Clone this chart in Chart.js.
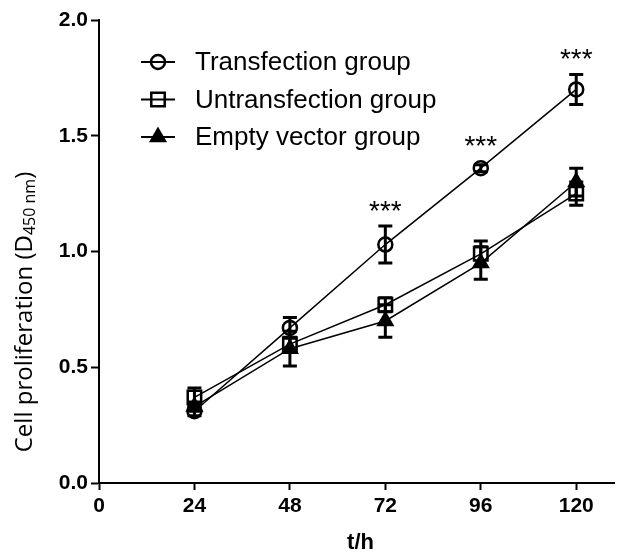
<!DOCTYPE html>
<html>
<head>
<meta charset="utf-8">
<script src="https://cdn.jsdelivr.net/npm/chart.js@4.4.1/dist/chart.umd.min.js"></script>
<style>
  html, body { margin: 0; padding: 0; background: #fff; }
  #wrap { width: 626px; height: 558px; position: relative; }
</style>
</head>
<body>
<div id="wrap"><canvas id="prolifChart"></canvas></div>
<script>
// time points (h) and tick labels
const hours = [24, 48, 72, 96, 120];
const xTicks = [0, 24, 48, 72, 96, 120];
const yTicks = [0, 0.5, 1.0, 1.5, 2.0];

const seriesLabels = ['Transfection group', 'Untransfection group', 'Empty vector group'];
const pointStyles = ['circle', 'rect', 'triangle'];

// D450 means and SD
const transfection = [0.31, 0.67, 1.03, 1.36, 1.70];
const transfectionErr = [0.02, 0.045, 0.08, 0.015, 0.065];
const untransfection = [0.37, 0.60, 0.77, 0.99, 1.25];
const untransfectionErr = [0.04, 0.03, 0.03, 0.055, 0.05];
const emptyVector = [0.33, 0.58, 0.70, 0.95, 1.30];
const emptyVectorErr = [0.02, 0.075, 0.07, 0.07, 0.06];

// significance marks vs. the control groups
const significance = ['', '', '***', '***', '***'];

const means = [transfection, untransfection, emptyVector];
const errors = [transfectionErr, untransfectionErr, emptyVectorErr];
const markerSize = { circle: 7, rect: 9.5, triangle: 8 };

function makeDataset(i) {
    const style = pointStyles[i];
    return {
        label: seriesLabels[i],
        data: hours.map((h, k) => ({ x: h, y: means[i][k] })),
        borderColor: '#000',
        borderWidth: 1.5,
        pointStyle: style,
        pointRadius: markerSize[style],
        pointBorderWidth: 2.5,
        pointBorderColor: '#000',
        pointBackgroundColor: style === 'triangle' ? '#000' : 'rgba(0,0,0,0)',
        fill: false,
        tension: 0
    };
}

const errorBarPlugin = {
    id: 'errorBars',
    afterDatasetsDraw(chart) {
        const ctx = chart.ctx;
        const xs = chart.scales.x, ys = chart.scales.y;
        ctx.save();
        ctx.strokeStyle = '#000';
        ctx.lineWidth = 3;
        means.forEach((m, i) => {
            m.forEach((v, k) => {
                const e = errors[i][k];
                const x = xs.getPixelForValue(hours[k]);
                const top = ys.getPixelForValue(v + e);
                const bot = ys.getPixelForValue(v - e);
                ctx.beginPath();
                ctx.moveTo(x, top); ctx.lineTo(x, bot);
                ctx.moveTo(x - 7, top); ctx.lineTo(x + 7, top);
                ctx.moveTo(x - 7, bot); ctx.lineTo(x + 7, bot);
                ctx.stroke();
            });
        });
        // stars over transfection group
        ctx.fillStyle = '#000';
        ctx.font = '28px "Liberation Sans", Arial, sans-serif';
        ctx.textAlign = 'center';
        ctx.textBaseline = 'middle';
        significance.forEach((s, k) => {
            if (!s) return;
            const x = xs.getPixelForValue(hours[k]);
            const top = ys.getPixelForValue(transfection[k] + Math.max(transfectionErr[k], 0.03));
            ctx.fillText(s, x, top - 14);
        });
        ctx.restore();
    }
};

const legendAndTitlesPlugin = {
    id: 'legendAndTitles',
    afterDraw(chart) {
        const ctx = chart.ctx;
        const area = chart.chartArea;
        ctx.save();
        // legend inside plot
        chart.data.datasets.forEach((ds, i) => {
            const y = 62 + i * 37.5;
            ctx.strokeStyle = '#000';
            ctx.fillStyle = ds.pointBackgroundColor;
            ctx.lineWidth = 2;
            ctx.beginPath();
            ctx.moveTo(141, y); ctx.lineTo(175, y);
            ctx.stroke();
            ctx.lineWidth = 2.5;
            Chart.helpers.drawPoint(ctx, {
                pointStyle: ds.pointStyle, radius: ds.pointRadius, rotation: 0, borderWidth: 2.5
            }, 158, y);
            ctx.fillStyle = '#000';
            ctx.font = '26px "Liberation Sans", Arial, sans-serif';
            ctx.textAlign = 'left';
            ctx.textBaseline = 'middle';
            ctx.fillText(ds.label, 195, y + 1);
        });

        // x axis title
        ctx.font = 'bold 22px "Liberation Sans", Arial, sans-serif';
        ctx.textAlign = 'center';
        ctx.textBaseline = 'middle';
        ctx.fillText('t/h', (area.left + area.right) / 2 + 4, 543);

        // y axis title with subscript
        ctx.translate(25, 312);
        ctx.rotate(-Math.PI / 2);
        const mainFont = '24px "Open Sans", sans-serif';
        const subFont = '16px "Open Sans", sans-serif';
        ctx.font = mainFont;
        const p1 = 'Cell proliferation (D';
        const w1 = ctx.measureText(p1).width;
        const w3 = ctx.measureText(')').width;
        ctx.font = subFont;
        const p2 = '450 nm';
        const w2 = ctx.measureText(p2).width;
        let x0 = -(w1 + w2 + w3) / 2;
        ctx.textAlign = 'left';
        ctx.textBaseline = 'middle';
        ctx.font = mainFont;
        ctx.fillText(p1, x0, 0);
        ctx.font = subFont;
        ctx.fillText(p2, x0 + w1, 5);
        ctx.font = mainFont;
        ctx.fillText(')', x0 + w1 + w2, 0);
        ctx.restore();
    }
};

const ctx = document.getElementById('prolifChart').getContext('2d');
new Chart(ctx, {
    type: 'line',
    data: { datasets: [0, 1, 2].map(makeDataset) },
    options: {
        responsive: true,
        maintainAspectRatio: false,
        animation: false,
        layout: { padding: { top: 20, right: 1, left: 0, bottom: 0 } },
        plugins: { legend: { display: false }, tooltip: { enabled: false } },
        scales: {
            x: {
                type: 'linear',
                min: 0,
                max: 129.5,
                afterBuildTicks: s => { s.ticks = xTicks.map(v => ({ value: v })); },
                afterFit: s => { s.height = 75; },
                grid: { drawOnChartArea: false, drawTicks: true, tickLength: 7, tickColor: '#000', tickWidth: 2 },
                border: { display: true, color: '#000', width: 2 },
                ticks: {
                    color: '#000',
                    padding: 4,
                    maxRotation: 0,
                    font: { family: '"Liberation Sans", Arial, sans-serif', size: 21, weight: 'bold' },
                    callback: v => String(v)
                }
            },
            y: {
                min: 0,
                max: 2,
                afterBuildTicks: s => { s.ticks = yTicks.map(v => ({ value: v })); },
                afterFit: s => { s.width = 99; },
                grid: { drawOnChartArea: false, drawTicks: true, tickLength: 8, tickColor: '#000', tickWidth: 2 },
                border: { display: true, color: '#000', width: 2 },
                ticks: {
                    color: '#000',
                    padding: 3,
                    font: { family: '"Liberation Sans", Arial, sans-serif', size: 21, weight: 'bold' },
                    callback: v => Number(v).toFixed(1)
                }
            }
        }
    },
    plugins: [errorBarPlugin, legendAndTitlesPlugin]
});
</script>
</body>
</html>
